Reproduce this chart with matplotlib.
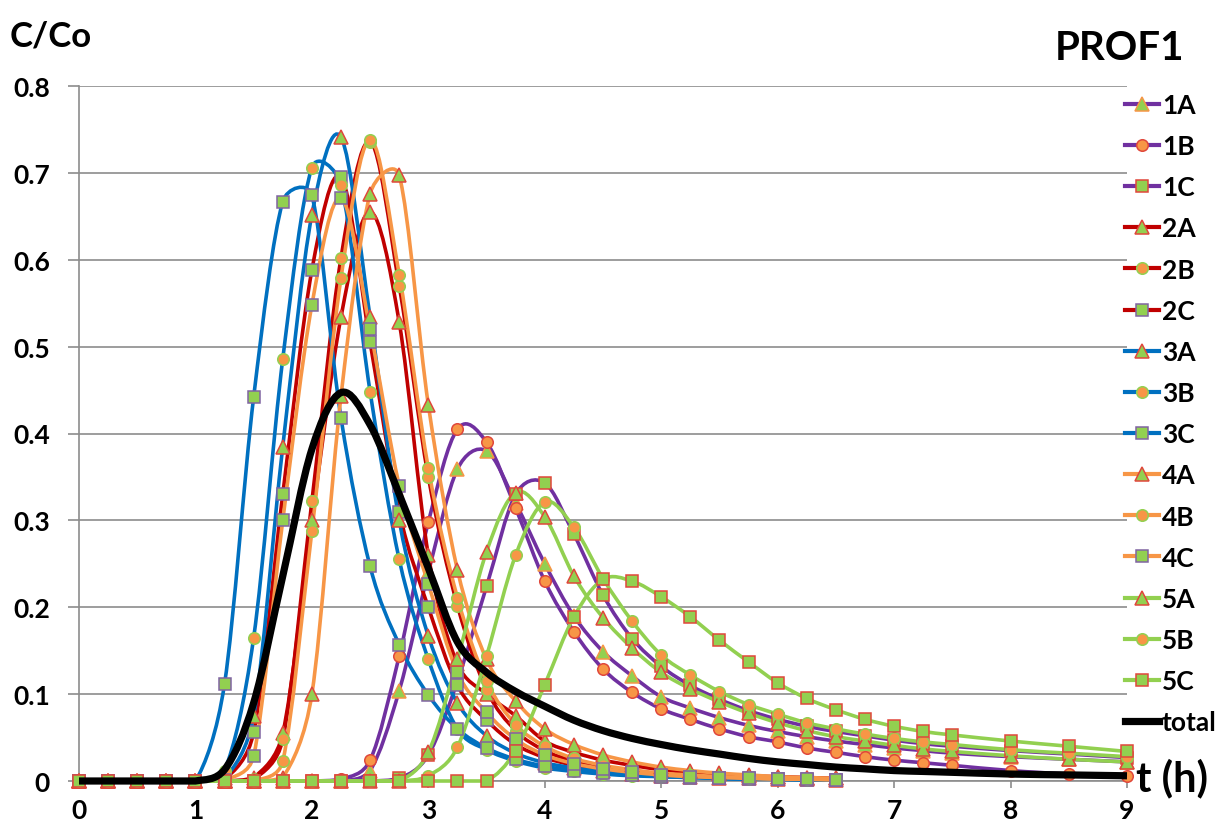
# PROF1 breakthrough curves (C/Co vs time) - Excel style smoothed lines
import numpy as np
import matplotlib.pyplot as plt
from matplotlib.path import Path
from matplotlib.patches import PathPatch
from matplotlib.lines import Line2D

plt.rcParams['font.family'] = ['Lato', 'DejaVu Sans']
plt.rcParams['font.weight'] = 'bold'

# time grids (h)
t_short = np.arange(0, 6.51, 0.25)                     # series 2, 3, 4
t_long = list(np.arange(0, 7.51, 0.25)) + [8, 8.5, 9]  # series 1, 5 and total

# C/Co values
s1A = [0, 0, 0, 0, 0, 0, 0, 0, 0, 0, 0.012, 0.104, 0.24, 0.359, 0.38, 0.32, 0.25,
       0.19, 0.149, 0.121, 0.097, 0.084, 0.073, 0.064, 0.057, 0.051, 0.046, 0.042,
       0.038, 0.035, 0.032, 0.028, 0.025, 0.022]
s1B = [0, 0, 0, 0, 0, 0, 0, 0, 0, 0.002, 0.024, 0.144, 0.298, 0.405, 0.39, 0.314,
       0.23, 0.172, 0.129, 0.102, 0.083, 0.071, 0.06, 0.051, 0.045, 0.038, 0.033,
       0.028, 0.024, 0.021, 0.018, 0.012, 0.008, 0.006]
s1C = [0, 0, 0, 0, 0, 0, 0, 0, 0, 0, 0, 0.003, 0.03, 0.115, 0.224, 0.33, 0.343,
       0.284, 0.214, 0.164, 0.132, 0.11, 0.094, 0.081, 0.071, 0.063, 0.057, 0.052,
       0.047, 0.043, 0.04, 0.035, 0.031, 0.027]
s2A = [0, 0, 0, 0, 0, 0, 0.004, 0.055, 0.30, 0.534, 0.655, 0.528, 0.26, 0.135, 0.1,
       0.075, 0.046, 0.033, 0.024, 0.018, 0.013, 0.01, 0.008, 0.006, 0.005, 0.004, 0.003]
s2B = [0, 0, 0, 0, 0, 0, 0.002, 0.048, 0.322, 0.602, 0.736, 0.57, 0.35, 0.202, 0.105,
       0.058, 0.035, 0.023, 0.016, 0.011, 0.008, 0.006, 0.005, 0.004, 0.003, 0.002, 0.002]
s2C = [0, 0, 0, 0, 0, 0.002, 0.056, 0.33, 0.588, 0.695, 0.505, 0.31, 0.2, 0.11, 0.07,
       0.042, 0.027, 0.018, 0.012, 0.009, 0.006, 0.005, 0.004, 0.003, 0.002, 0.002, 0.001]
s3A = [0, 0, 0, 0, 0, 0.003, 0.075, 0.385, 0.652, 0.741, 0.534, 0.30, 0.167, 0.09,
       0.052, 0.032, 0.021, 0.015, 0.011, 0.008, 0.006, 0.005, 0.004, 0.003, 0.002,
       0.002, 0.001]
s3B = [0, 0, 0, 0, 0, 0.012, 0.165, 0.486, 0.706, 0.686, 0.448, 0.255, 0.14, 0.06,
       0.036, 0.023, 0.015, 0.011, 0.008, 0.006, 0.005, 0.004, 0.003, 0.002, 0.002,
       0.001, 0.001]
s3C = [0, 0, 0, 0, 0, 0.112, 0.442, 0.667, 0.674, 0.418, 0.247, 0.157, 0.099, 0.06,
       0.038, 0.025, 0.017, 0.012, 0.009, 0.007, 0.005, 0.004, 0.003, 0.002, 0.002,
       0.001, 0.001]
s4A = [0, 0, 0, 0, 0, 0, 0, 0.004, 0.10, 0.443, 0.676, 0.697, 0.433, 0.243, 0.14,
       0.092, 0.06, 0.042, 0.03, 0.022, 0.016, 0.012, 0.009, 0.007, 0.005, 0.004, 0.003]
s4B = [0, 0, 0, 0, 0, 0, 0, 0.023, 0.288, 0.579, 0.738, 0.583, 0.36, 0.211, 0.115,
       0.065, 0.04, 0.026, 0.018, 0.013, 0.009, 0.007, 0.005, 0.004, 0.003, 0.002, 0.002]
s4C = [0, 0, 0, 0, 0, 0.001, 0.029, 0.30, 0.548, 0.671, 0.52, 0.34, 0.227, 0.125,
       0.079, 0.048, 0.03, 0.02, 0.014, 0.01, 0.007, 0.005, 0.004, 0.003, 0.002,
       0.002, 0.001]
s5A = [0, 0, 0, 0, 0, 0, 0, 0, 0, 0, 0, 0, 0.033, 0.14, 0.264, 0.332, 0.304, 0.236,
       0.188, 0.153, 0.125, 0.106, 0.091, 0.078, 0.067, 0.058, 0.051, 0.046, 0.041,
       0.037, 0.034, 0.029, 0.025, 0.022]
s5B = [0, 0, 0, 0, 0, 0, 0, 0, 0, 0, 0, 0, 0.006, 0.039, 0.144, 0.26, 0.321, 0.292,
       0.233, 0.184, 0.145, 0.122, 0.103, 0.088, 0.077, 0.067, 0.06, 0.054, 0.049,
       0.045, 0.042, 0.036, 0.032, 0.028]
s5C = [0, 0, 0, 0, 0, 0, 0, 0, 0, 0, 0, 0, 0, 0, 0, 0.035, 0.111, 0.189, 0.232, 0.23,
       0.212, 0.189, 0.162, 0.137, 0.113, 0.095, 0.082, 0.071, 0.063, 0.057, 0.053,
       0.046, 0.040, 0.034]
total = [0, 0, 0, 0, 0, 0.013, 0.09, 0.236, 0.382, 0.447, 0.41, 0.33, 0.245, 0.16,
         0.125, 0.103, 0.086, 0.07, 0.058, 0.049, 0.042, 0.036, 0.031, 0.026, 0.022,
         0.019, 0.016, 0.014, 0.012, 0.011, 0.01, 0.008, 0.007, 0.006]

labels = ['1A', '1B', '1C', '2A', '2B', '2C', '3A', '3B', '3C',
          '4A', '4B', '4C', '5A', '5B', '5C']
values = [s1A, s1B, s1C, s2A, s2B, s2C, s3A, s3B, s3C, s4A, s4B, s4C, s5A, s5B, s5C]

# colours
purple, red, blue, orange, green = '#7030A0', '#C00000', '#0070C0', '#F79646', '#92D050'
m_green, m_orange = '#92D050', '#F79646'
e_red, e_green, e_purple, e_orange = '#E0473B', '#92D050', '#8064A2', '#F79646'

line_cols = [purple] * 3 + [red] * 3 + [blue] * 3 + [orange] * 3 + [green] * 3
markers = ['^', 'o', 's'] * 5
fills = [m_green, m_orange, m_green] * 5
edges = [e_orange, e_red, e_red,
         e_red, e_green, e_purple,
         e_red, e_green, e_purple,
         e_red, e_green, e_purple,
         e_red, e_green, e_red]

# pixels per data unit, used to size the smoothing like Excel does on screen
SX, SY = 1048 / 9, 695 / 0.8


def smooth_path(x, y):
    # Bezier through every point, like Excel's "smoothed line"
    n = len(x)
    px = [v * SX for v in x]
    py = [v * SY for v in y]

    def dist(i, j):
        return np.hypot(px[j] - px[i], py[j] - py[i])

    verts = [(x[0], y[0])]
    codes = [Path.MOVETO]
    for i in range(n - 1):
        a = i - 1 if i > 0 else i
        b = i + 2 if i + 2 < n else i + 1
        d12 = dist(i, i + 1)
        d02 = dist(a, i + 1)
        d13 = dist(i, b)
        f1 = 1 / 6
        if d02 > 0 and d02 / 6 > d12 / 2:
            f1 = d12 / (2 * d02)
        f2 = 1 / 6
        if d13 > 0 and d13 / 6 > d12 / 2:
            f2 = d12 / (2 * d13)
        c1 = (x[i] + (x[i + 1] - x[a]) * f1, max(0, y[i] + (y[i + 1] - y[a]) * f1))
        c2 = (x[i + 1] - (x[b] - x[i]) * f2, max(0, y[i + 1] - (y[b] - y[i]) * f2))
        verts += [c1, c2, (x[i + 1], y[i + 1])]
        codes += [Path.CURVE4] * 3
    return Path(verts, codes)


fig = plt.figure(figsize=(12.21, 8.29), dpi=100)
ax = fig.add_axes([79 / 1221, 1 - 782 / 829, 1048 / 1221, 695 / 829])

handles = []
for lab, v, lc, mk, fc, ec in zip(labels, values, line_cols, markers, fills, edges):
    t = list(t_short) if len(v) == len(t_short) else t_long
    ax.add_patch(PathPatch(smooth_path(t, v), fill=False, edgecolor=lc,
                           linewidth=2.6, clip_on=False, zorder=3))
    ms = 9.5 if mk == '^' else 8.3
    ax.plot(t, v, linestyle='none', marker=mk, markersize=ms, markerfacecolor=fc,
            markeredgecolor=ec, markeredgewidth=1.1, clip_on=False, zorder=4)
    handles.append(Line2D([], [], color=lc, linewidth=3, marker=mk, markersize=ms,
                          markerfacecolor=fc, markeredgecolor=ec, markeredgewidth=1.1))

ax.add_patch(PathPatch(smooth_path(t_long, total), fill=False, edgecolor='black',
                       linewidth=5.2, clip_on=False, zorder=5))
handles.append(Line2D([], [], color='black', linewidth=5.2))

ax.set_xlim(0, 9)
ax.set_ylim(0, 0.8)
ax.set_xticks(range(10))
ax.set_yticks(np.arange(0, 0.81, 0.1))
ax.set_yticklabels(['0', '0.1', '0.2', '0.3', '0.4', '0.5', '0.6', '0.7', '0.8'])
ax.grid(axis='y', color='#8c8c8c', linewidth=1.2)
ax.set_axisbelow(True)
for s in ['top', 'right']:
    ax.spines[s].set_visible(False)
for s in ['left', 'bottom']:
    ax.spines[s].set_color('#8c8c8c')
    ax.spines[s].set_linewidth(1.2)
ax.tick_params(axis='y', length=8, width=1.2, color='#8c8c8c', pad=13, labelsize=19)
ax.tick_params(axis='x', length=5, width=1.2, color='#8c8c8c', pad=7, labelsize=19)
for lbl in ax.get_xticklabels() + ax.get_yticklabels():
    lbl.set_fontweight('bold')

fig.text(10 / 1221, 1 - 36 / 829, 'C/Co', fontsize=25, fontweight='bold', va='center')
fig.text(1184 / 1221, 1 - 48 / 829, 'PROF1', fontsize=29, fontweight='bold',
         va='center', ha='right')
fig.text(1136 / 1221, 1 - 778 / 829, 't (h)', fontsize=30, fontweight='bold', va='center')

ax.legend(handles, labels + ['total'], loc='upper left',
          bbox_to_anchor=(1125 / 1221, 1 - 94 / 829), bbox_transform=fig.transFigure,
          frameon=False, handlelength=1.3, handletextpad=0.1,
          labelspacing=0.65, borderpad=0, borderaxespad=0,
          prop={'weight': 'bold', 'size': 19})

fig.savefig('out.png', dpi=100)
